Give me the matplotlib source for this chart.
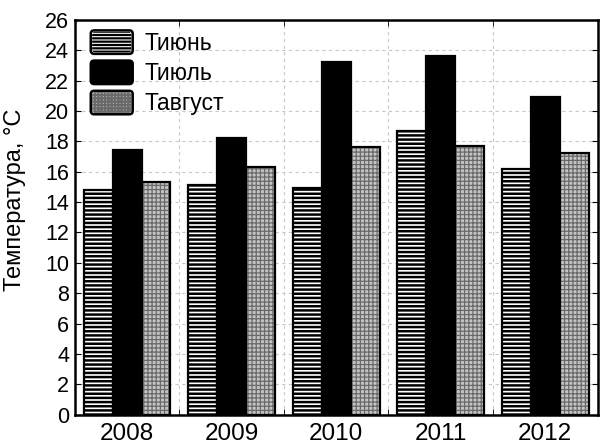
import matplotlib
matplotlib.use("Agg")
import matplotlib.pyplot as plt
from matplotlib.patches import Patch, FancyBboxPatch
from matplotlib.legend_handler import HandlerPatch
import numpy as np

plt.rcParams['font.family'] = ['Liberation Sans', 'DejaVu Sans']

years = ["2008", "2009", "2010", "2011", "2012"]
june = [14.8, 15.1, 14.9, 18.7, 16.2]
july = [17.4, 18.2, 23.2, 23.6, 20.9]
august = [15.3, 16.3, 17.6, 17.7, 17.2]
labels = ["Тиюнь", "Тиюль", "Тавгуст"]

fig = plt.figure(figsize=(6.03, 4.48), dpi=100)
ax = fig.add_axes([0.124, 0.074, 0.867, 0.882])

x = np.arange(len(years))
w = 0.277

# June: horizontal stripes
plt.rcParams['hatch.linewidth'] = 1.8
ax.bar(x - w, june, w, color='white', edgecolor='black', hatch='----',
       linewidth=1.6, zorder=3)
# July: solid black
ax.bar(x, july, w, color='black', edgecolor='black', linewidth=1.6, zorder=3)
# August: grey fill with fine grid hatch
plt.rcParams['hatch.linewidth'] = 0.9
ax.bar(x + w, august, w, color='#c4c4c4', edgecolor='#6a6a6a', hatch='++++',
       linewidth=0, zorder=3)
ax.bar(x + w, august, w, fill=False, edgecolor='black', linewidth=1.6, zorder=4)


class RoundedHandler(HandlerPatch):
    def create_artists(self, legend, orig_handle, xdescent, ydescent,
                       width, height, fontsize, trans):
        hatch = orig_handle.get_hatch()
        fc = orig_handle.get_facecolor()
        arts = []
        if hatch:
            inner = FancyBboxPatch((-xdescent + 1, -ydescent + 1), width - 2, height - 2,
                                   boxstyle="round,pad=0,rounding_size=2",
                                   facecolor=fc, edgecolor=orig_handle.get_edgecolor(),
                                   hatch=hatch, linewidth=0, transform=trans)
            arts.append(inner)
            outer = FancyBboxPatch((-xdescent, -ydescent), width, height,
                                   boxstyle="round,pad=0,rounding_size=2.5",
                                   facecolor='none', edgecolor='black',
                                   linewidth=1.8, transform=trans)
        else:
            outer = FancyBboxPatch((-xdescent, -ydescent), width, height,
                                   boxstyle="round,pad=0,rounding_size=2.5",
                                   facecolor=fc, edgecolor='black',
                                   linewidth=1.8, transform=trans)
        arts.append(outer)
        return arts


h1 = Patch(facecolor='white', edgecolor='black', hatch='-----')
h2 = Patch(facecolor='black', edgecolor='black')
h3 = Patch(facecolor='#c4c4c4', edgecolor='#6a6a6a', hatch='+++++')
plt.rcParams['hatch.linewidth'] = 1.6
leg = ax.legend([h1, h2, h3], labels, loc='upper left', frameon=False,
                fontsize=16.5, handlelength=1.83, handleheight=1.2,
                bbox_to_anchor=(0.0306, 0.973), borderaxespad=0, borderpad=0,
                labelspacing=0.25, handletextpad=0.52,
                handler_map={Patch: RoundedHandler()})

ax.set_xlim(-0.5, 4.5)
ax.set_ylim(0, 26)
ax.set_yticks(np.arange(0, 27, 2))
ax.set_xticks(x)
ax.set_xticklabels(years, fontsize=17.5)
ax.tick_params(axis='x', length=0, pad=6)
ax.set_xticks(np.arange(0.5, 4.5, 1), minor=True)
ax.tick_params(axis='x', which='minor', direction='in', length=4, top=True, bottom=True)
ax.tick_params(axis='y', direction='in', length=4, right=True, labelsize=15.5, pad=4)
ax.set_ylabel("Температура, °C", fontsize=17)
ax.yaxis.set_label_coords(-0.094, 0.545)

ax.grid(True, axis='y', linestyle=(0, (3, 3)), color='#c8c8c8', linewidth=0.8, zorder=0)
ax.grid(True, axis='x', which='minor', linestyle=(0, (3, 3)), color='#c8c8c8', linewidth=0.8, zorder=0)
for s in ax.spines.values():
    s.set_linewidth(1.8)

fig.savefig("out.png", dpi=100)
